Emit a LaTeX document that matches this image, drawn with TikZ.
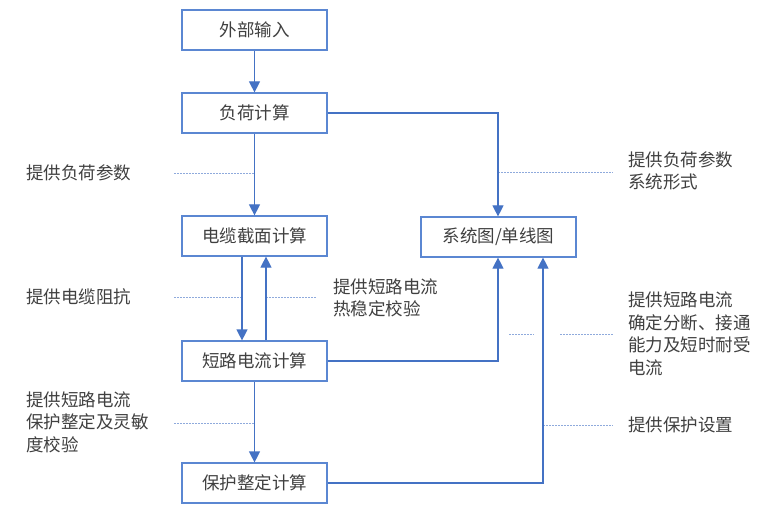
\documentclass[tikz,border=0pt]{standalone}
\usepackage{fontspec}
\setmainfont{Noto Sans CJK SC}
\usetikzlibrary{arrows.meta}
\definecolor{boxc}{HTML}{5B87D2}
\definecolor{arrc}{HTML}{4472C4}
\definecolor{dashc}{HTML}{8FAADC}
\definecolor{txtc}{HTML}{404040}
\begin{document}
\begin{tikzpicture}[x=1bp,y=-1bp,
  every node/.style={text=txtc,font=\fontsize{17.5bp}{22.5bp}\selectfont},
  boxn/.style={draw=boxc,line width=1.2bp,minimum width=145bp,minimum height=40bp,inner sep=0pt,fill=white},
  lab/.style={align=left,anchor=west,inner sep=0pt},
  arr/.style={draw=arrc,line width=1.2bp,-{Triangle[width=11bp,length=11bp]}},
  ln/.style={draw=arrc,line width=1.2bp},
  dsh/.style={draw=dashc,line width=0.9bp,dash pattern=on 2bp off 1bp}]
\useasboundingbox (0,0) rectangle (768,516);
\fill[white] (0,0) rectangle (768,516);
\node[boxn] (in) at (254.5,30) {外部输入};
\node[boxn] (load) at (254.5,113) {负荷计算};
\node[boxn] (cable) at (254.5,236) {电缆截面计算};
\node[boxn, minimum width=155bp] (sys) at (498.5,237) {系统图/单线图};
\node[boxn] (sc) at (254.5,361) {短路电流计算};
\node[boxn] (prot) at (254.5,483) {保护整定计算};
% coordinates
\coordinate (c1) at (498,113);
\coordinate (c2) at (498,361);
\coordinate (c3) at (543,483);
\coordinate (d1a) at (174,173);
\coordinate (d1b) at (254.5,173);
\coordinate (d2a) at (498,172);
\coordinate (d2b) at (613,172);
\coordinate (d3a) at (174,297);
\coordinate (d3b) at (242,297);
\coordinate (d4a) at (266,297);
\coordinate (d4b) at (317,297);
\coordinate (d5a) at (509,334);
\coordinate (d5b) at (534,334);
\coordinate (d6a) at (560,334);
\coordinate (d6b) at (613,334);
\coordinate (d7a) at (174,423);
\coordinate (d7b) at (254.5,423);
\coordinate (d8a) at (543,425);
\coordinate (d8b) at (613,425);
% dashed leaders
\draw[dsh] (d1a) -- (d1b);
\draw[dsh] (d2a) -- (d2b);
\draw[dsh] (d3a) -- (d3b);
\draw[dsh] (d4a) -- (d4b);
\draw[dsh] (d5a) -- (d5b);
\draw[dsh] (d6a) -- (d6b);
\draw[dsh] (d7a) -- (d7b);
\draw[dsh] (d8a) -- (d8b);
% arrows
\draw[arr] (in) -- (load);
\draw[arr] (load) -- (cable);
\draw[arr] (load.east) -- (c1) -- (sys.north -| c1);
\draw[arr] (cable.south -| d3b) -- (sc.north -| d3b);
\draw[arr] (sc.north -| d4a) -- (cable.south -| d4a);
\draw[arr] (sc.east) -- (c2) -- (sys.south -| c2);
\draw[arr] (sc) -- (prot);
\draw[arr] (prot.east) -- (c3) -- (sys.south -| c3);
% labels
\node[lab] (l1) at (26,173) {提供负荷参数};
\node[lab] (l2) at (628,171) {提供负荷参数\\系统形式};
\node[lab] (l3) at (26,297) {提供电缆阻抗};
\node[lab] (l4) at (333,298) {提供短路电流\\热稳定校验};
\node[lab] (l5) at (628,334) {提供短路电流\\确定分断、接通\\能力及短时耐受\\电流};
\node[lab] (l6) at (26,422) {提供短路电流\\保护整定及灵敏\\度校验};
\node[lab] (l7) at (628,425) {提供保护设置};
\end{tikzpicture}
\end{document}
